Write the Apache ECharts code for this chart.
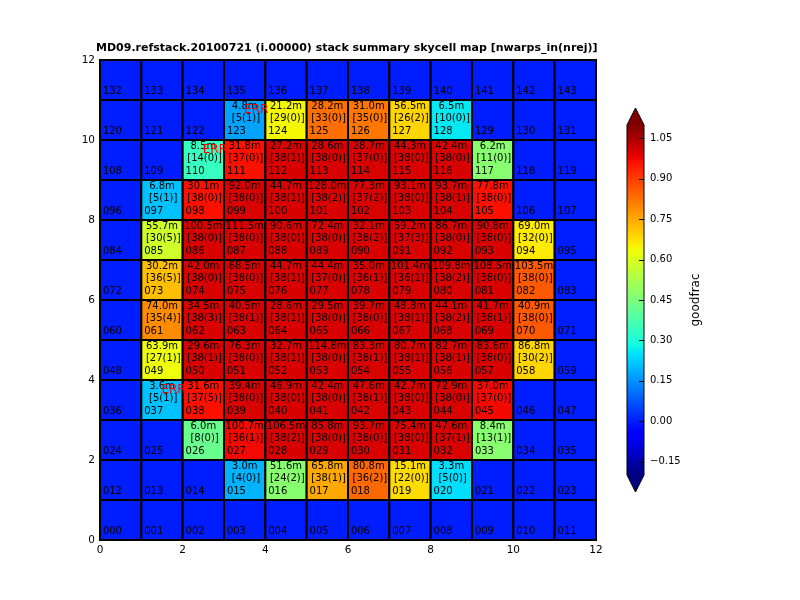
<!DOCTYPE html>
<html><head><meta charset="utf-8">
<script src="https://cdn.jsdelivr.net/npm/echarts@6/dist/echarts.min.js"></script>
<style>html,body{margin:0;padding:0;background:#fff}#c{width:800px;height:600px}</style>
</head><body><div id="c"></div>
<script>
const titleText = 'MD09.refstack.20100721 (i.00000) stack summary skycell map [nwarps_in(nrej)]';
const nCols = 12, nRows = 12;
const cbTicks = [-0.15, 0, 0.15, 0.30, 0.45, 0.60, 0.75, 0.90, 1.05];
const cbMin = -0.2, cbMax = 1.1;

// skycells that have stack data (row by row, top to bottom)
const cells = [
  123,124,125,126,127,128,
  110,111,112,113,114,115,116,117,
  97,98,99,100,101,102,103,104,105,
  85,86,87,88,89,90,91,92,93,94,
  73,74,75,76,77,78,79,80,81,82,
  61,62,63,64,65,66,67,68,69,70,
  49,50,51,52,53,54,55,56,57,58,
  37,38,39,40,41,42,43,44,45,
  26,27,28,29,30,31,32,33,
  15,16,17,18,19,20
];
// exposure time in minutes
const expMin = [
  4.8,21.2,28.2,31.0,56.5,6.5,
  8.5,31.8,27.2,28.6,28.7,44.3,42.4,6.2,
  6.8,30.1,92.0,44.7,128.0,77.3,93.1,93.7,77.8,
  55.7,100.5,111.5,90.6,72.4,32.1,59.2,86.7,90.8,69.0,
  30.2,42.0,68.5,44.7,44.4,35.0,101.4,109.8,108.5,103.5,
  74.0,34.5,40.5,28.6,29.5,39.7,48.8,44.1,41.7,40.9,
  63.9,29.6,76.3,32.7,114.8,83.3,80.7,82.7,83.6,86.8,
  3.6,31.6,39.4,46.9,42.4,47.6,42.7,72.9,37.0,
  6.0,100.7,106.5,85.8,93.7,75.4,47.6,8.4,
  3.0,51.6,65.8,80.8,15.1,3.3
];
const nwarpsIn = [
  5,29,33,35,26,10,
  14,37,38,38,37,38,38,11,
  5,38,38,38,38,37,38,38,38,
  30,38,38,38,38,38,37,38,38,32,
  36,38,38,38,37,36,36,38,38,38,
  35,38,38,38,38,38,38,38,38,38,
  27,38,38,38,38,38,38,38,38,30,
  5,37,38,38,38,38,38,38,37,
  8,36,38,38,38,38,37,13,
  4,24,38,36,22,5
];
const nRej = [
  1,0,0,0,2,0,
  0,0,1,0,0,0,0,0,
  1,0,0,1,2,2,0,1,0,
  5,0,0,0,0,2,3,0,0,0,
  5,0,0,1,0,1,1,2,0,0,
  4,3,1,1,0,0,1,2,1,0,
  1,1,0,1,0,1,1,1,0,2,
  1,5,0,0,0,1,0,0,0,
  0,1,2,0,0,0,1,1,
  0,2,1,2,0,0
];
const goodFrac = [
  0.17,0.64,0.83,0.82,0.69,0.26,
  0.34,0.96,1.0,1.0,1.0,1.0,1.0,0.47,
  0.21,0.96,1.0,1.0,1.0,1.0,1.0,1.0,0.96,
  0.58,1.0,1.0,1.0,1.0,1.0,1.0,1.0,1.0,0.66,
  0.72,1.0,1.0,1.0,1.0,1.0,1.0,1.0,1.0,0.86,
  0.79,1.0,1.0,1.0,1.0,1.0,1.0,1.0,1.0,0.86,
  0.63,1.0,1.0,1.0,1.0,1.0,1.0,1.0,1.0,0.69,
  0.21,0.96,1.0,1.0,1.0,1.0,1.0,1.0,0.97,
  0.42,0.97,1.0,1.0,1.0,1.0,1.0,0.47,
  0.19,0.47,0.75,0.84,0.68,0.245
];
const emptyFrac = 0.0;
const errCells = [123, 110, 37];

// jet colormap (matplotlib segment data)
const jetSeg = {
  r: [[0,0],[0.35,0],[0.66,1],[0.89,1],[1,0.5]],
  g: [[0,0],[0.125,0],[0.375,1],[0.64,1],[0.91,0],[1,0]],
  b: [[0,0.5],[0.11,1],[0.34,1],[0.65,0],[1,0]]
};
function seg(s, t) {
  for (let i = 1; i < s.length; i++) {
    if (t <= s[i][0]) {
      const a = s[i-1], b = s[i];
      return a[1] + (b[1]-a[1]) * (t-a[0]) / (b[0]-a[0]);
    }
  }
  return s[s.length-1][1];
}
function jet(t) {
  const c = k => Math.round(255 * seg(jetSeg[k], t));
  return 'rgb(' + c('r') + ',' + c('g') + ',' + c('b') + ')';
}
const jetColors = [];
for (let k = 0; k <= 130; k++) jetColors.push(jet(k / 130));

const FONT = '"DejaVu Sans", sans-serif';
const pad3 = n => String(n).padStart(3, '0');

const gridData = [];
for (let id = 0; id < nCols * nRows; id++) {
  const k = cells.indexOf(id);
  gridData.push([id % nCols, Math.floor(id / nCols), k >= 0 ? goodFrac[k] : emptyFrac]);
}
const errData = errCells.map(id => [id % nCols, Math.floor(id / nCols)]);

function txt(text, x, y, align, size, color) {
  return { type: 'text', style: { text: text, x: x, y: y, align: align, verticalAlign: 'middle',
    fontFamily: 'DejaVu Sans', fontSize: size, fill: color } };
}

function renderCell(params, api) {
  const x = api.value(0), y = api.value(1);
  const p0 = api.coord([x, y + 1]);
  const p1 = api.coord([x + 1, y]);
  const w = p1[0] - p0[0], h = p1[1] - p0[1];
  const id = params.dataIndex;
  const ch = [{
    type: 'rect',
    shape: { x: p0[0], y: p0[1], width: w, height: h },
    style: { fill: api.visual('color'), stroke: '#000', lineWidth: 2 }
  }, txt(pad3(id), p0[0] + 0.07 * w, p0[1] + 0.79 * h, 'left', 10, '#000')];
  const k = cells.indexOf(id);
  if (k >= 0) {
    ch.push(txt(expMin[k].toFixed(1) + 'm', p0[0] + 0.5 * w, p0[1] + 0.15 * h, 'center', 10, '#000'));
    ch.push(txt('[' + nwarpsIn[k] + '(' + nRej[k] + ')]', p0[0] + 0.53 * w, p0[1] + 0.45 * h, 'center', 10, '#000'));
  }
  return { type: 'group', children: ch };
}

function renderErr(params, api) {
  const x = api.value(0), y = api.value(1);
  const p = api.coord([x + 0.78, y + 0.76]);
  return txt('ERR', p[0], p[1], 'center', 12, '#ff0000');
}

function renderColorbar(params, api) {
  const cs = params.coordSys;
  const x = cs.x, y = cs.y, w = cs.width, h = cs.height;
  const stops = jetColors.map((c, i) => ({ offset: i / (jetColors.length - 1), color: c }));
  const ch = [
    { type: 'rect', shape: { x: x, y: y, width: w, height: h },
      style: { fill: { type: 'linear', x: 0, y: 1, x2: 0, y2: 0, colorStops: stops }, stroke: null } },
    { type: 'polygon', shape: { points: [[x, y], [x + w, y], [x + w / 2, y - w]] },
      style: { fill: jet(1), stroke: null } },
    { type: 'polygon', shape: { points: [[x, y + h], [x + w, y + h], [x + w / 2, y + h + w]] },
      style: { fill: jet(0), stroke: null } },
    { type: 'polyline', shape: { points: [[x, y], [x + w / 2, y - w], [x + w, y], [x + w, y + h],
      [x + w / 2, y + h + w], [x, y + h], [x, y]] },
      style: { fill: null, stroke: '#000', lineWidth: 1 } }
  ];
  cbTicks.forEach(v => {
    const ty = Math.round(api.coord([0, v])[1]) + 0.5;
    ch.push({ type: 'line', shape: { x1: x + w - 5, y1: ty, x2: x + w, y2: ty },
      style: { stroke: '#000', lineWidth: 1 } });
  });
  return { type: 'group', children: ch };
}

const chart = echarts.init(document.getElementById('c'), null, { renderer: 'canvas' });
chart.setOption({
  animation: false,
  backgroundColor: '#fff',
  title: { text: titleText, left: 96, top: 43, padding: 0,
    textStyle: { fontFamily: FONT, fontSize: 11, fontWeight: 'bold', color: '#000' } },
  grid: [
    { left: 100, top: 60, width: 496, height: 480 },
    { left: 627, top: 125, width: 17, height: 350 }
  ],
  xAxis: [
    { gridIndex: 0, type: 'value', min: 0, max: 12, interval: 2,
      axisLine: { lineStyle: { color: '#000' } },
      axisTick: { inside: true, length: 4, lineStyle: { color: '#000' } },
      axisLabel: { color: '#000', fontFamily: FONT, fontSize: 10.5, margin: 5 },
      splitLine: { show: false } },
    { gridIndex: 1, type: 'value', min: 0, max: 1, show: false }
  ],
  yAxis: [
    { gridIndex: 0, type: 'value', min: 0, max: 12, interval: 2,
      axisLine: { lineStyle: { color: '#000' } },
      axisTick: { inside: true, length: 4, lineStyle: { color: '#000' } },
      axisLabel: { color: '#000', fontFamily: FONT, fontSize: 10.5, margin: 5 },
      splitLine: { show: false } },
    { gridIndex: 1, type: 'value', min: cbMin, max: cbMax, position: 'right',
      axisLine: { show: false },
      axisTick: { show: false },
      axisLabel: { show: true, customValues: cbTicks, color: '#000', fontFamily: FONT,
        fontSize: 10, margin: 6,
        formatter: v => (v < 0 ? '\u2212' : '') + Math.abs(v).toFixed(2) },
      splitLine: { show: false },
      name: 'goodfrac', nameLocation: 'middle', nameGap: 46,
      nameTextStyle: { fontFamily: FONT, fontSize: 12, color: '#000' } }
  ],
  visualMap: { type: 'continuous', show: false, min: cbMin, max: cbMax, dimension: 2,
    seriesIndex: 0, inRange: { color: jetColors } },
  series: [
    { type: 'custom', xAxisIndex: 0, yAxisIndex: 0, renderItem: renderCell,
      encode: { x: 0, y: 1 }, data: gridData, z: 3, silent: true },
    { type: 'custom', xAxisIndex: 0, yAxisIndex: 0, renderItem: renderErr,
      encode: { x: 0, y: 1 }, data: errData, z: 6, silent: true },
    { type: 'custom', xAxisIndex: 1, yAxisIndex: 1, renderItem: renderColorbar,
      data: [[0.5, 0.45]], z: 1, silent: true }
  ]
});
</script>
</body></html>
